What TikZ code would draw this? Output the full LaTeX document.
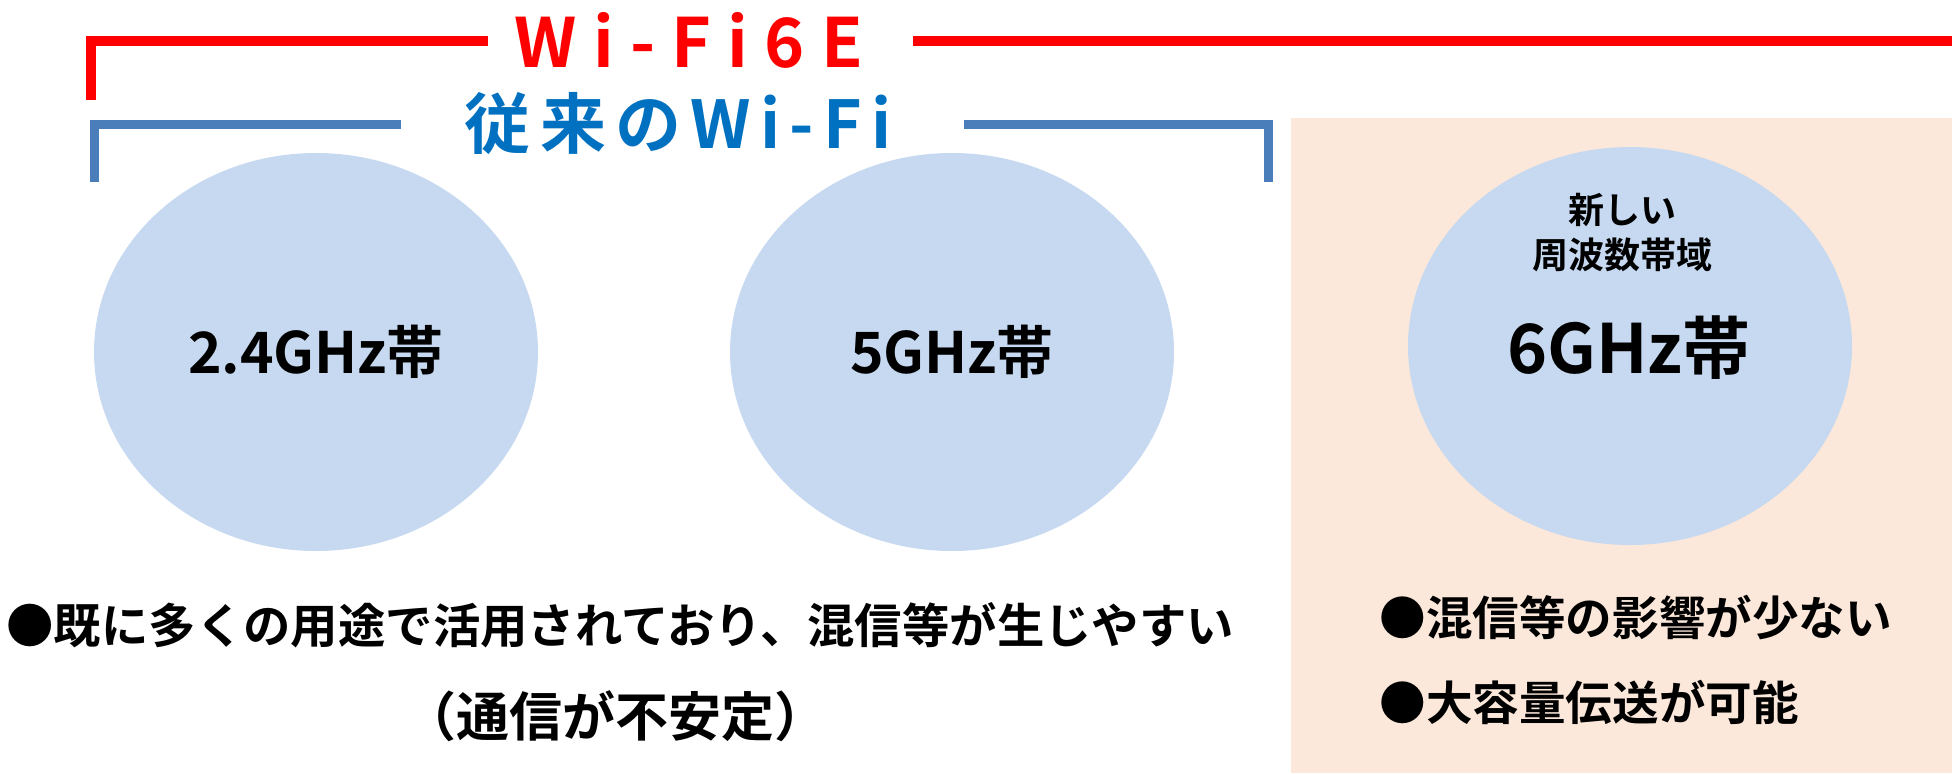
\documentclass[tikz,border=0pt]{standalone}
\usepackage{fontspec}
\usetikzlibrary{shapes.geometric}
\newfontfamily\jp{Noto Sans CJK JP}[BoldFont=* Bold]
\newfontfamily\jpred{Noto Sans CJK JP}[BoldFont=* Bold, LetterSpace=24]
\newfontfamily\jpblue{Noto Sans CJK JP}[BoldFont=* Bold, LetterSpace=14]
\definecolor{wred}{HTML}{FF0000}
\definecolor{wline}{HTML}{4A7EBB}
\definecolor{wtext}{HTML}{0070C0}
\definecolor{bandfill}{HTML}{C6D9F0}
\definecolor{panelfill}{HTML}{FBE8DA}
\tikzset{
  band/.style={ellipse, fill=bandfill, draw=none, inner sep=0pt,
    minimum width=222pt, minimum height=199pt},
  bandlabel/.style={font=\jp\bfseries\fontsize{28.5}{34}\selectfont, text=black},
  redline/.style={draw=wred, line width=5pt},
  blueline/.style={draw=wline, line width=4.5pt},
  bullet/.style={font=\jp\bfseries\fontsize{23.7}{28}\selectfont, inner sep=0pt, anchor=west},
  bulletr/.style={font=\jp\bfseries\fontsize{23.3}{28}\selectfont, inner sep=0pt, anchor=west},
  plain/.style={inner sep=0pt}
}
\begin{document}
\begin{tikzpicture}[x=0.5pt, y=-0.5pt]
\useasboundingbox (0,0) rectangle (1952,773);
% panel
\node[plain, fill=panelfill, minimum width=330.5pt, minimum height=327.5pt, anchor=north west] (panel) at (1291,118) {};
% ellipses
\node[band, bandlabel] (b24) at (316,352) {2.4GHz帯};
\node[band, bandlabel] (b5) at (952,352) {5GHz帯};
\node[band] (b6) at (1630,346) {};
\node[plain, font=\jp\bfseries\fontsize{34}{40}\selectfont] (l6) at (1629,348) {6GHz帯};
\node[plain, font=\jp\bfseries\fontsize{18}{22}\selectfont] (new1) at (1622,210) {新しい};
\node[plain, font=\jp\bfseries\fontsize{18}{22}\selectfont] (new2) at (1622,255) {周波数帯域};
% titles
\node[plain, font=\jpred\bfseries\fontsize{34}{40}\selectfont, text=wred] (t6e) at (689,40) {Wi-Fi6E};
\node[plain, font=\jpblue\bfseries\fontsize{33}{40}\selectfont, text=wtext] (tlegacy) at (678,124) {従来のWi-Fi};
% red bracket
\coordinate (r0) at (91,100);
\coordinate (r1) at (91,41);
\coordinate (r2) at (488,41);
\coordinate (r3) at (913,41);
\coordinate (r4) at (1952,41);
\draw[redline] (r0) -- (r1) -- (r2);
\draw[redline] (r3) -- (r4);
% blue bracket
\coordinate (bl0) at (94,182);
\coordinate (bl1) at (94,124);
\coordinate (bl2) at (401,124);
\coordinate (br0) at (964,124);
\coordinate (br1) at (1268,124);
\coordinate (br2) at (1268,182);
\draw[blueline] (bl0) -- (bl1) -- (bl2);
\draw[blueline] (br0) -- (br1) -- (br2);
% bottom texts
\node[bullet] (txt1) at (6,625) {●既に多くの用途で活用されており、混信等が生じやすい};
\node[plain, font=\jp\bfseries\fontsize{26.5}{30}\selectfont] (txt2) at (615,716) {（通信が不安定）};
\node[bulletr] (txt3) at (1379,617) {●混信等の影響が少ない};
\node[bulletr] (txt4) at (1379,702) {●大容量伝送が可能};
\end{tikzpicture}
\end{document}
